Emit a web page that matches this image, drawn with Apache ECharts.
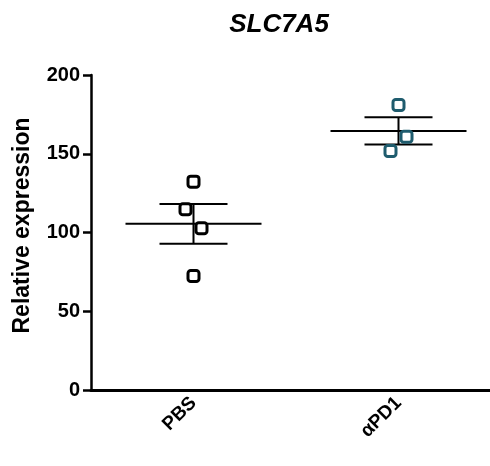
<!DOCTYPE html>
<html>
<head>
<meta charset="utf-8">
<script src="https://cdn.jsdelivr.net/npm/echarts@6/dist/echarts.min.js"></script>
<style>
  html, body { margin: 0; padding: 0; background: #fff; }
  #chart { width: 490px; height: 466px; }
</style>
</head>
<body>
<div id="chart"></div>
<script>
// 数据
var groups = ["PBS", "\u03b1PD1"];
var pbsValues = [132.3, 114.7, 102.7, 72.4];
var pd1Values = [181.0, 160.8, 151.7];
var yTicks = [0, 50, 100, 150, 200];

// 散点横向错开 (px)
var pbsJitter = [0, -8, 8, 0];
var pd1Jitter = [0, 8, -8];
var groupColors = ["#000000", "#1f5c6e"];

function meanSem(arr) {
  var n = arr.length;
  var m = arr.reduce(function (a, b) { return a + b; }, 0) / n;
  var v = arr.reduce(function (a, b) { return a + (b - m) * (b - m); }, 0) / (n - 1);
  return [m, Math.sqrt(v) / Math.sqrt(n)];
}

var allValues = [pbsValues, pd1Values];
var allJitter = [pbsJitter, pd1Jitter];
var statData = allValues.map(function (vals, i) {
  var s = meanSem(vals);
  return [i, s[0], s[1]];
});

var scatterSeries = allValues.map(function (vals, gi) {
  return {
    type: "scatter",
    z: 5,
    symbol: "roundRect",
    symbolSize: 11,
    itemStyle: {
      color: "#fff",
      borderColor: groupColors[gi],
      borderWidth: 3,
      opacity: 1
    },
    data: vals.map(function (v, k) {
      return { value: [gi, v], symbolOffset: [allJitter[gi][k], 0] };
    })
  };
});

var chart = echarts.init(document.getElementById("chart"));
chart.setOption({
  animation: false,
  title: {
    text: "SLC7A5",
    left: 274,
    top: 7,
    textAlign: "center",
    textStyle: {
      fontFamily: "Liberation Sans",
      fontSize: 26,
      fontWeight: "bold",
      fontStyle: "italic",
      color: "#000"
    }
  },
  grid: {
    left: 91,
    width: 410,
    top: 75,
    bottom: 76,
    outerBoundsMode: "none"
  },
  xAxis: {
    type: "category",
    data: groups,
    boundaryGap: true,
    axisLine: { lineStyle: { color: "#000", width: 3 } },
    axisTick: {
      alignWithLabel: true,
      length: 7,
      lineStyle: { color: "#000", width: 2.5 }
    },
    axisLabel: {
      rotate: 45,
      margin: 10,
      fontFamily: "Liberation Sans",
      fontSize: 19,
      fontWeight: "bold",
      color: "#000"
    },
    splitLine: { show: false }
  },
  yAxis: {
    type: "value",
    min: yTicks[0],
    max: yTicks[yTicks.length - 1],
    interval: 50,
    name: "Relative expression",
    nameLocation: "middle",
    nameGap: 57,
    nameTextStyle: {
      fontFamily: "Liberation Sans",
      fontSize: 23,
      fontWeight: "bold",
      color: "#000",
      padding: [0, 0, 0, 14]
    },
    axisLine: { show: true, lineStyle: { color: "#000", width: 2.5 } },
    axisTick: { show: true, length: 8, lineStyle: { color: "#000", width: 2.5 } },
    axisLabel: {
      margin: 11,
      fontFamily: "Liberation Sans",
      fontSize: 20,
      fontWeight: "bold",
      color: "#000"
    },
    splitLine: { show: false }
  },
  series: [
    {
      // 均值 ± SEM
      type: "custom",
      z: 2,
      data: statData,
      renderItem: function (params, api) {
        var c = api.coord([api.value(0), api.value(1)]);
        var top = api.coord([api.value(0), api.value(1) + api.value(2)]);
        var bot = api.coord([api.value(0), api.value(1) - api.value(2)]);
        var st = { stroke: "#000", lineWidth: 2 };
        return {
          type: "group",
          children: [
            { type: "line", shape: { x1: c[0] - 68, y1: c[1], x2: c[0] + 68, y2: c[1] }, style: st },
            { type: "line", shape: { x1: c[0], y1: top[1], x2: c[0], y2: bot[1] }, style: st },
            { type: "line", shape: { x1: c[0] - 34, y1: top[1], x2: c[0] + 34, y2: top[1] }, style: st },
            { type: "line", shape: { x1: c[0] - 34, y1: bot[1], x2: c[0] + 34, y2: bot[1] }, style: st }
          ]
        };
      }
    }
  ].concat(scatterSeries)
});
</script>
</body>
</html>
